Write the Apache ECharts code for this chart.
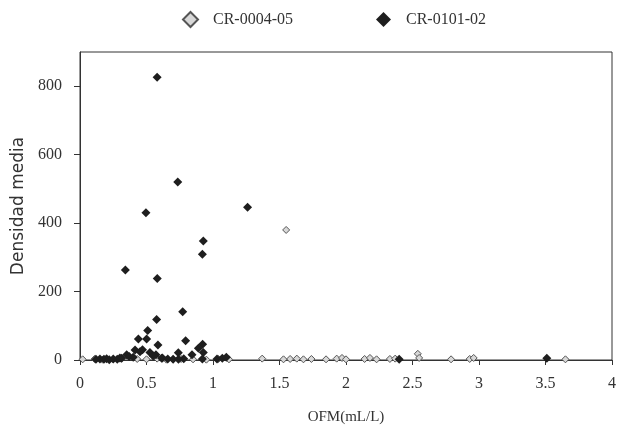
<!DOCTYPE html>
<html>
<head>
<meta charset="utf-8">
<script src="https://cdn.jsdelivr.net/npm/echarts@6/dist/echarts.min.js"></script>
<style>
  html, body { margin: 0; padding: 0; background: #fff; }
  #chart { width: 617px; height: 428px; }
</style>
</head>
<body>
<div id="chart"></div>
<script>
// CR-0004-05 (open grey diamonds)
const cr0004X = [0.02, 0.11, 0.17, 0.25, 0.31, 0.43, 0.5, 0.58, 0.65, 0.7, 0.76, 0.85, 0.95, 1.04, 1.12, 1.37,
  1.53, 1.55, 1.58, 1.63, 1.68, 1.74, 1.85, 1.93, 1.97, 2.0, 2.14, 2.18, 2.23, 2.33, 2.37, 2.54, 2.55, 2.79, 2.93, 2.96, 3.65];
const cr0004Y = [2, 3, 1, 2, 4, 3, 2, 4, 1, 2, 3, 2, 1, 3, 2, 4,
  2, 380, 3, 4, 2, 3, 2, 4, 6, 2, 3, 6, 2, 3, 4, 18, 6, 2, 3, 6, 2];

// CR-0101-02 (filled black diamonds)
const cr0101X = [0.58, 0.735, 0.496, 1.26, 0.927, 0.92, 0.341, 0.581, 0.576, 0.772, 0.509, 0.439, 0.501, 0.586,
  0.794, 0.922, 0.89, 0.927, 0.842, 0.739, 0.414, 0.451, 0.526, 0.571, 0.614, 0.351, 0.313, 0.15, 0.18, 0.2,
  0.22, 0.25, 0.28, 0.3, 0.37, 0.4, 0.47, 0.55, 0.62, 0.66, 0.7, 0.78, 0.92, 1.03, 1.07, 1.1, 2.4, 3.51, 0.12, 0.74];
const cr0101Y = [826, 520, 430, 446, 348, 309, 263, 238, 118, 141, 86, 61, 61, 44,
  56, 46, 34, 22, 15, 21, 29, 24, 22, 15, 5, 15, 5, 3, 2, 4,
  1, 3, 2, 6, 10, 8, 30, 12, 6, 3, 2, 4, 3, 3, 5, 8, 2, 5, 2, 2];

const yTicks = [0, 200, 400, 600, 800];
const xTicks = [0, 0.5, 1, 1.5, 2, 2.5, 3, 3.5, 4];

const pairs = (xs, ys) => xs.map((x, i) => [x, ys[i]]);

const serif = '"Liberation Serif", "DejaVu Serif", serif';
const axisColor = '#333';

let chart = echarts.init(document.getElementById('chart'), null, { renderer: 'canvas' });

chart.setOption({
  animation: false,
  backgroundColor: '#fff',
  legend: {
    top: 6,
    left: 177,
    itemWidth: 15,
    itemHeight: 15,
    itemGap: 83,
    textStyle: { fontFamily: serif, fontSize: 16, color: '#333', padding: [0, 0, 0, 10] },
    data: ['CR-0004-05', 'CR-0101-02']
  },
  grid: {
    left: 80,
    right: 5,
    top: 52,
    bottom: 68,
    outerBoundsMode: 'none',
    containLabel: false,
    show: true,
    borderColor: axisColor,
    borderWidth: 1
  },
  xAxis: {
    type: 'value',
    min: 0,
    max: 4,
    interval: 0.5,
    name: 'OFM(mL/L)',
    nameLocation: 'middle',
    nameGap: 50,
    nameTextStyle: { fontFamily: serif, fontSize: 15, color: '#333' },
    axisLine: { show: true, lineStyle: { color: axisColor, width: 1 } },
    axisTick: { show: true, length: 5, lineStyle: { color: axisColor } },
    axisLabel: { fontFamily: serif, fontSize: 16, color: '#333', margin: 16, customValues: xTicks },
    splitLine: { show: false }
  },
  yAxis: {
    type: 'value',
    min: 0,
    max: 900,
    interval: 100,
    name: 'Densidad media',
    nameLocation: 'middle',
    nameGap: 51,
    nameTextStyle: { fontFamily: '"DejaVu Sans", sans-serif', fontSize: 17, color: '#333' },
    axisLine: { show: true, lineStyle: { color: axisColor, width: 1 } },
    axisTick: { show: true, length: 6, lineStyle: { color: axisColor }, customValues: yTicks },
    axisLabel: { fontFamily: serif, fontSize: 16, color: '#333', margin: 18, customValues: yTicks },
    splitLine: { show: false }
  },
  series: [
    {
      name: 'CR-0004-05',
      type: 'scatter',
      symbol: 'diamond',
      symbolSize: 7,
      itemStyle: { color: '#d8d8d8', borderColor: '#555', borderWidth: 1, opacity: 1 },
      data: pairs(cr0004X, cr0004Y)
    },
    {
      name: 'CR-0101-02',
      type: 'scatter',
      symbol: 'diamond',
      symbolSize: 9,
      itemStyle: { color: '#1e1e1e', opacity: 1 },
      data: pairs(cr0101X, cr0101Y)
    }
  ]
});
</script>
</body>
</html>
